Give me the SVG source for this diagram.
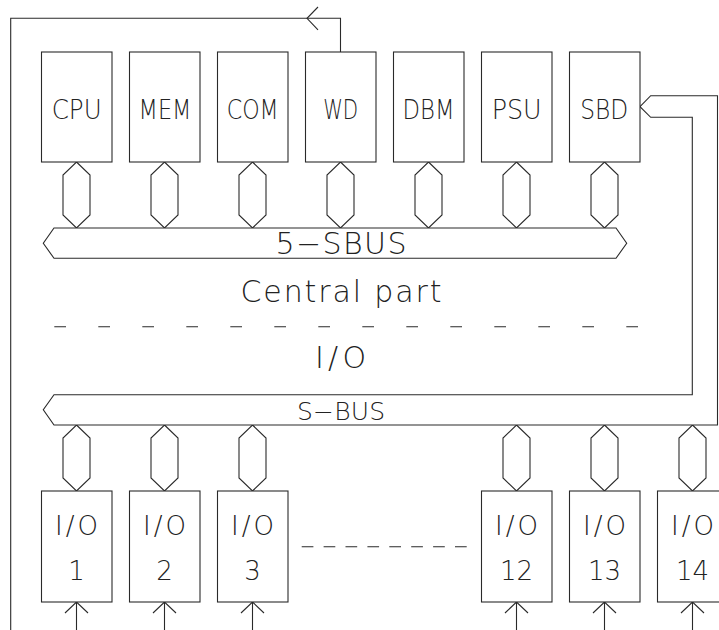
<svg xmlns="http://www.w3.org/2000/svg" xmlns:xlink="http://www.w3.org/1999/xlink" width="719" height="630" viewBox="0 0 719 630">
<style>
.ln{fill:none;stroke:#2a2a2a;stroke-width:1.1}
.bx{fill:#fff;stroke:#2a2a2a;stroke-width:1.1}
.t{font-family:"DejaVu Sans","Liberation Sans",sans-serif;font-weight:200;fill:#222;text-anchor:middle}
.tb{font-size:26px}
.tm{font-size:30px}
.ts{font-size:25px}
</style>
<defs>
<path id="hex" class="bx" d="M0,0 L13.5,13 L13.5,53 L0,66 L-13.5,53 L-13.5,13 Z"/>
<path id="up" class="ln" d="M0,0 V28 M-11.5,11 L0,0 L11.5,11"/>
</defs>
<rect width="719" height="630" fill="#fff"/>
<g id="connectors">
<path class="ln" d="M340.5,52 V18.3 H10.7 V630"/>
<path class="ln" d="M318,7 L307,18.3 L318,29.8"/>
<use xlink:href="#hex" x="76.5" y="162"/>
<use xlink:href="#hex" x="164.5" y="162"/>
<use xlink:href="#hex" x="252.5" y="162"/>
<use xlink:href="#hex" x="340.5" y="162"/>
<use xlink:href="#hex" x="428.5" y="162"/>
<use xlink:href="#hex" x="516.5" y="162"/>
<use xlink:href="#hex" x="604.5" y="162"/>
<use xlink:href="#hex" x="76.5" y="425"/>
<use xlink:href="#hex" x="164.5" y="425"/>
<use xlink:href="#hex" x="252.5" y="425"/>
<use xlink:href="#hex" x="516.5" y="425"/>
<use xlink:href="#hex" x="604.5" y="425"/>
<use xlink:href="#hex" x="692.5" y="425"/>
<use xlink:href="#up" x="76.5" y="602"/>
<use xlink:href="#up" x="164.5" y="602"/>
<use xlink:href="#up" x="252.5" y="602"/>
<use xlink:href="#up" x="516.5" y="602"/>
<use xlink:href="#up" x="604.5" y="602"/>
<use xlink:href="#up" x="692.5" y="602"/>
</g>
<g id="sbus5">
<path class="bx" d="M54,228 H616 L626.7,243.2 L616,258.3 H54 L43.3,243.2 Z"/>
<text class="t tm" x="341" y="254.3" textLength="131" lengthAdjust="spacing">5−SBUS</text>
</g>
<g id="sbus">
<path class="bx" d="M640,106.7 L650.7,95.7 H717.5 V425 H54 L43.3,409.8 L54,394.7 H692.3 V117.3 H650.7 Z"/>
<text class="t ts" x="341" y="420" textLength="88" lengthAdjust="spacing">S−BUS</text>
</g>
<g id="labels">
<text class="t tm" x="341" y="301.7" textLength="201" lengthAdjust="spacing">Central part</text>
<line class="ln" x1="54.3" y1="326.7" x2="638.3" y2="326.7" stroke-dasharray="11.7 32.3"/>
<text class="t tm" x="340.5" y="368.3" textLength="51" lengthAdjust="spacing">I/O</text>
<line class="ln" x1="301.7" y1="546.7" x2="467.3" y2="546.7" stroke-dasharray="11.7 10.2"/>
</g>
<g id="cpu"><rect class="bx" x="41.5" y="52" width="70.5" height="110"/><text class="t tb" x="76.7" y="119" textLength="50" lengthAdjust="spacingAndGlyphs">CPU</text></g>
<g id="mem"><rect class="bx" x="129.5" y="52" width="70.5" height="110"/><text class="t tb" x="165" y="119" textLength="53" lengthAdjust="spacingAndGlyphs">MEM</text></g>
<g id="com"><rect class="bx" x="217.5" y="52" width="70.5" height="110"/><text class="t tb" x="252.7" y="119" textLength="52" lengthAdjust="spacingAndGlyphs">COM</text></g>
<g id="wd"><rect class="bx" x="305.5" y="52" width="70.5" height="110"/><text class="t tb" x="340.7" y="119" textLength="35" lengthAdjust="spacingAndGlyphs">WD</text></g>
<g id="dbm"><rect class="bx" x="393.5" y="52" width="70.5" height="110"/><text class="t tb" x="428.5" y="119" textLength="52" lengthAdjust="spacingAndGlyphs">DBM</text></g>
<g id="psu"><rect class="bx" x="481.5" y="52" width="70.5" height="110"/><text class="t tb" x="516.7" y="119" textLength="50" lengthAdjust="spacingAndGlyphs">PSU</text></g>
<g id="sbd"><rect class="bx" x="569.5" y="52" width="70.5" height="110"/><text class="t tb" x="604.2" y="119" textLength="48" lengthAdjust="spacingAndGlyphs">SBD</text></g>
<g id="io1"><rect class="bx" x="41.5" y="491" width="70.5" height="111"/><text class="t tb" x="76.5" y="535" textLength="43" lengthAdjust="spacing">I/O</text><text class="t tb" x="76.5" y="580">1</text></g>
<g id="io2"><rect class="bx" x="129.5" y="491" width="70.5" height="111"/><text class="t tb" x="164.5" y="535" textLength="43" lengthAdjust="spacing">I/O</text><text class="t tb" x="164.5" y="580">2</text></g>
<g id="io3"><rect class="bx" x="217.5" y="491" width="70.5" height="111"/><text class="t tb" x="252.5" y="535" textLength="43" lengthAdjust="spacing">I/O</text><text class="t tb" x="252.5" y="580">3</text></g>
<g id="io12"><rect class="bx" x="481.5" y="491" width="70.5" height="111"/><text class="t tb" x="516.5" y="535" textLength="43" lengthAdjust="spacing">I/O</text><text class="t tb" x="516.5" y="580" textLength="33" lengthAdjust="spacing">12</text></g>
<g id="io13"><rect class="bx" x="569.5" y="491" width="70.5" height="111"/><text class="t tb" x="604.5" y="535" textLength="43" lengthAdjust="spacing">I/O</text><text class="t tb" x="604.5" y="580" textLength="33" lengthAdjust="spacing">13</text></g>
<g id="io14"><rect class="bx" x="657.5" y="491" width="70.5" height="111"/><text class="t tb" x="692.5" y="535" textLength="43" lengthAdjust="spacing">I/O</text><text class="t tb" x="692.5" y="580" textLength="33" lengthAdjust="spacing">14</text></g>
</svg>
